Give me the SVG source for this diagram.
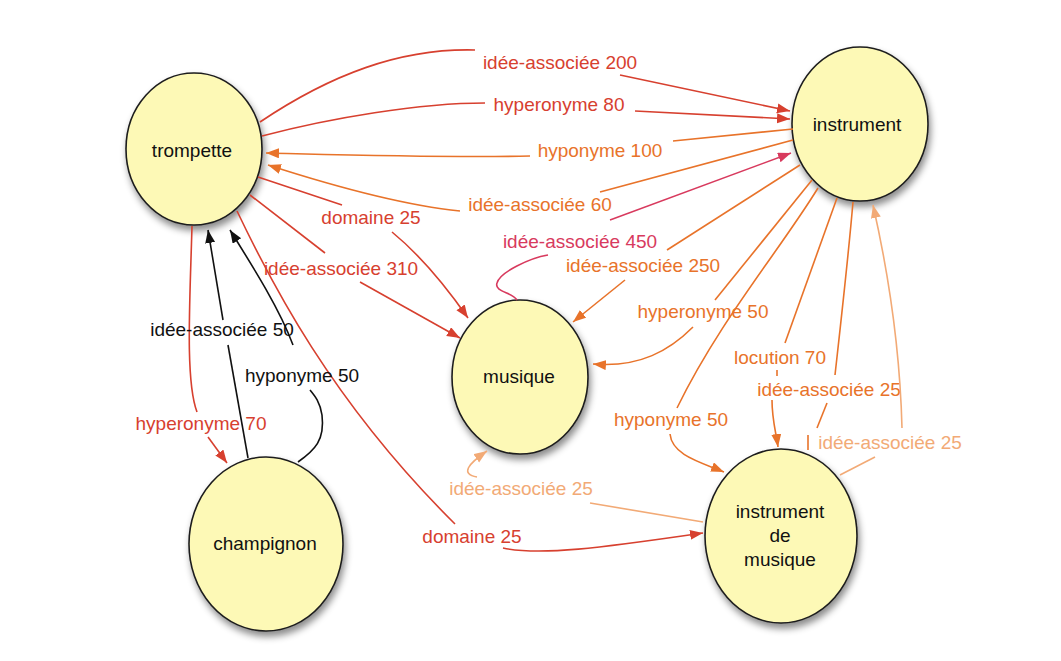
<svg xmlns="http://www.w3.org/2000/svg" width="1061" height="661" viewBox="0 0 1061 661">
<defs>
<filter id="sh" x="-20%" y="-20%" width="150%" height="150%">
<feDropShadow dx="2" dy="5" stdDeviation="3.5" flood-color="#000" flood-opacity="0.45"/>
</filter>
<marker id="ar" markerUnits="userSpaceOnUse" markerWidth="14" markerHeight="11" refX="13" refY="5" orient="auto"><path d="M0,0 L13,5 L0,10 z" style="fill:#d7402f;stroke:none"/></marker>
<marker id="ao" markerUnits="userSpaceOnUse" markerWidth="14" markerHeight="11" refX="13" refY="5" orient="auto"><path d="M0,0 L13,5 L0,10 z" style="fill:#e8732a;stroke:none"/></marker>
<marker id="ap" markerUnits="userSpaceOnUse" markerWidth="14" markerHeight="11" refX="13" refY="5" orient="auto"><path d="M0,0 L13,5 L0,10 z" style="fill:#d83a5e;stroke:none"/></marker>
<marker id="al" markerUnits="userSpaceOnUse" markerWidth="14" markerHeight="11" refX="13" refY="5" orient="auto"><path d="M0,0 L13,5 L0,10 z" style="fill:#f2aa76;stroke:none"/></marker>
<marker id="ak" markerUnits="userSpaceOnUse" markerWidth="14" markerHeight="11" refX="13" refY="5" orient="auto"><path d="M0,0 L13,5 L0,10 z" style="fill:#111;stroke:none"/></marker>
</defs>
<style>
text{font-family:"Liberation Sans",Arial,sans-serif;font-size:19px;text-anchor:middle}
.node ellipse{fill:#fdf9b6;stroke:#1e1e1e;stroke-width:1.6;filter:url(#sh)}
.node text{fill:#111}
#connectors path{fill:none;stroke-width:1.6}
.r path{stroke:#d7402f}.r text{fill:#d7402f}
.o path{stroke:#e8732a}.o text{fill:#e8732a}
.p path{stroke:#d83a5e}.p text{fill:#d83a5e}
.l path{stroke:#f2aa76}.l text{fill:#f2aa76}
.k path{stroke:#111}.k text{fill:#111}
.r .e{marker-end:url(#ar)}.o .e{marker-end:url(#ao)}.p .e{marker-end:url(#ap)}.l .e{marker-end:url(#al)}.k .e{marker-end:url(#ak)}
</style>
<rect width="1061" height="661" fill="#fff"/>
<g id="nodes">
<g id="trompette" class="node"><ellipse cx="194" cy="149" rx="68" ry="76"/><text x="192" y="157">trompette</text></g>
<g id="instrument" class="node"><ellipse cx="860" cy="124" rx="68" ry="77"/><text x="857" y="131">instrument</text></g>
<g id="musique" class="node"><ellipse cx="520" cy="377" rx="68" ry="77"/><text x="519" y="383">musique</text></g>
<g id="champignon" class="node"><ellipse cx="266" cy="544" rx="77" ry="87"/><text x="265" y="550">champignon</text></g>
<g id="instrument-de-musique" class="node"><ellipse cx="781" cy="536" rx="76" ry="87"/><text x="780" y="518">instrument</text><text x="780" y="542">de</text><text x="780" y="566">musique</text></g>
</g>
<g id="connectors">
<g class="r"><path d="M260,122 C330,75 400,48 475,50"/><path class="e" d="M620,75 L790,111"/><text x="560" y="69">idée-associée 200</text></g>
<g class="r"><path d="M262,136 C330,118 420,103 485,103"/><path class="e" d="M635,111 L790,119"/><text x="559" y="111">hyperonyme 80</text></g>
<g class="o"><path d="M793,129 L673,141"/><path class="e" d="M530,156 C450,158 350,155 266,153"/><text x="600" y="157">hyponyme 100</text></g>
<g class="o"><path d="M793,140 L600,192"/><path class="e" d="M460,211 C400,205 330,185 268,165"/><text x="540" y="211">idée-associée 60</text></g>
<g class="p"><path d="M517,300 C512,292 494,292 497,283 C500,272 530,258 548,255"/><path class="e" d="M610,220 L791,153"/><text x="580" y="248">idée-associée 450</text></g>
<g class="o"><path d="M800,165 L667,250"/><path class="e" d="M625,280 L573,322"/><text x="643" y="272">idée-associée 250</text></g>
<g class="r"><path d="M258,177 L342,205"/><path class="e" d="M392,232 C420,255 445,285 468,318"/><text x="371" y="224">domaine 25</text></g>
<g class="r"><path d="M250,195 L325,253"/><path class="e" d="M360,282 L460,338"/><text x="341" y="275">idée-associée 310</text></g>
<g class="r"><path d="M237,211 C270,280 330,400 455,524"/><path class="e" d="M503,548 C540,556 600,548 703,533"/><text x="472" y="543">domaine 25</text></g>
<g class="r"><path d="M192,226 C190,300 185,380 197,412"/><path class="e" d="M208,437 L227,463"/><text x="201" y="430">hyperonyme 70</text></g>
<g class="k"><path d="M248,458 L228,345"/><path class="e" d="M223,320 L208,230"/><text x="222" y="336">idée-associée 50</text></g>
<g class="k"><path d="M298,462 C315,450 325,440 322,415 C320,402 315,396 310,390"/><path class="e" d="M293,345 C280,310 255,270 230,230"/><text x="302" y="382">hyponyme 50</text></g>
<g class="o"><path d="M812,180 L715,300"/><path class="e" d="M693,327 C670,350 640,368 593,364"/><text x="703" y="318">hyperonyme 50</text></g>
<g class="o"><path d="M818,188 C780,250 720,320 677,408"/><path class="e" d="M670,434 C672,455 700,462 724,472"/><text x="671" y="426">hyponyme 50</text></g>
<g class="o"><path d="M837,198 L785,343"/><path d="M777,370 L777,376"/><path class="e" d="M772,400 C772,420 776,432 778,447"/><text x="780" y="364">locution 70</text></g>
<g class="o"><path d="M853,202 C848,260 840,330 835,375"/><path d="M827,403 L817,428"/><path d="M808,435 L808,450"/><text x="829" y="396">idée-associée 25</text></g>
<g class="l"><path d="M840,475 L875,457"/><path class="e" d="M902,428 C900,350 890,280 873,205"/><text x="890" y="449">idée-associée 25</text></g>
<g class="l"><path d="M703,522 L590,503"/><path class="e" d="M477,477 C460,474 468,464 487,451"/><text x="521" y="495">idée-associée 25</text></g>
</g>
</svg>
